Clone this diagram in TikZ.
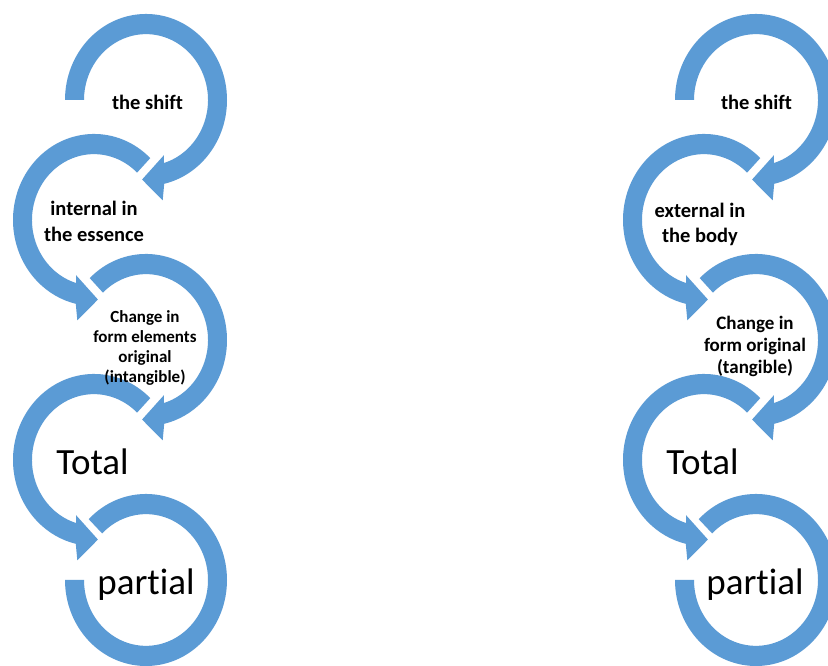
\documentclass[tikz,border=0pt]{standalone}
\usepackage{fontspec}
\setmainfont{Carlito}[Ligatures=NoCommon]
\definecolor{ringblue}{RGB}{91,155,213}
\tikzset{
  ring/.style={fill=ringblue},
  lblS/.style={font=\bfseries\fontsize{20.5}{25.5}\selectfont, align=center, inner sep=0pt, text=black},
  lblL/.style={font=\fontsize{37}{44}\selectfont, inner sep=0pt, anchor=base, text=black},
}
% clockwise arrow: start angle -> head at bottom pointing left
\newcommand{\CwArrow}[2]{\fill[ring, shift={#1}, yscale=1.062] (#2:81pt) arc[start angle=#2, end angle=-77, radius=81pt] -- (-80:96pt) -- (-93:75pt) -- (-71:55pt) -- (-73.2:62pt) arc[start angle=-73.2, end angle=#2, radius=62pt] -- cycle;}
% counterclockwise arrow: start angle -> head at bottom pointing right
\newcommand{\CcwArrow}[2]{\fill[ring, shift={#1}, yscale=1.062] (#2:81pt) arc[start angle=#2, end angle=257, radius=81pt] -- (260:96pt) -- (273:75pt) -- (251:55pt) -- (253.2:62pt) arc[start angle=253.2, end angle=#2, radius=62pt] -- cycle;}
% last ring without head
\newcommand{\EndRing}[1]{\fill[ring, shift={#1}, yscale=1.062] (135:81pt) arc[start angle=135, end angle=-180, radius=81pt] -- (180:62pt) arc[start angle=-180, end angle=135, radius=62pt] -- cycle;}
\begin{document}
\begin{tikzpicture}[x=1pt,y=1pt]
\useasboundingbox (0,0) rectangle (828,666);
\fill[white] (0,0) rectangle (828,666);
\clip (0,0) rectangle (828,666);
% left column
\CwArrow{(146,566)}{180}
\CcwArrow{(94,446)}{46}
\CwArrow{(146,326)}{134}
\CcwArrow{(94,206)}{46}
\EndRing{(146,86)}
% right column
\CwArrow{(756,566)}{180}
\CcwArrow{(704,446)}{46}
\CwArrow{(756,326)}{134}
\CcwArrow{(704,206)}{46}
\EndRing{(756,86)}
% labels left
\node[lblS, anchor=base] (l1) at (147.5,556) {the shift};
\node[lblS] (l2) at (94,444.5) {internal in\\the essence};
\node[lblS, font=\bfseries\fontsize{17}{19.8}\selectfont] (l3) at (145,318) {Change in\\form elements\\original\\(intangible)};
\node[lblL] (l4) at (92.5,191) {Total};
\node[lblL] (l5) at (146,71) {partial};
% labels right
\node[lblS, anchor=base] (r1) at (756.5,556) {the shift};
\node[lblS] (r2) at (700,441.5) {external in\\the body};
\node[lblS, font=\bfseries\fontsize{19}{22}\selectfont] (r3) at (755,319.5) {Change in\\form original\\(tangible)};
\node[lblL] (r4) at (702.5,191) {Total};
\node[lblL] (r5) at (755,71) {partial};
\end{tikzpicture}
\end{document}
